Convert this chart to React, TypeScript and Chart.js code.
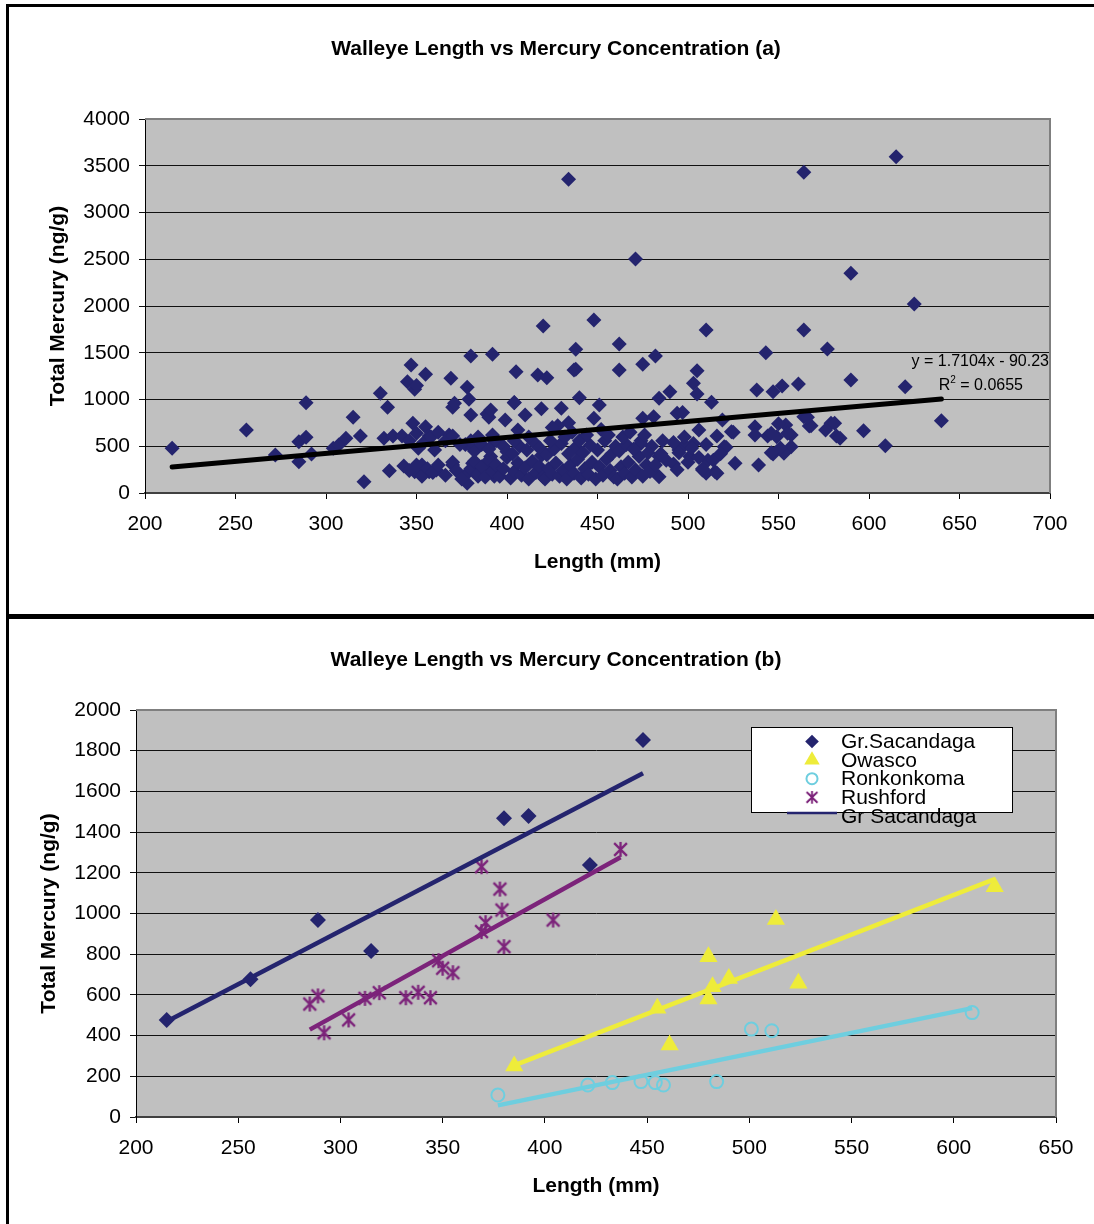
import React, { useEffect, useRef } from 'react';
import { Chart, registerables } from 'chart.js';

Chart.register(...registerables);

const FONT = "'Liberation Sans', Arial, Helvetica, sans-serif";

// ---------- text ----------
const TITLE_A = 'Walleye Length vs Mercury Concentration (a)';
const TITLE_B = 'Walleye Length vs Mercury Concentration (b)';
const X_TITLE = 'Length (mm)';
const Y_TITLE = 'Total Mercury (ng/g)';

// ---------- axes ----------
const X_MIN_A = 200, X_MAX_A = 700, X_STEP = 50;
const Y_MIN_A = 0, Y_MAX_A = 4000, Y_STEP_A = 500;
const X_MIN_B = 200, X_MAX_B = 650;
const Y_MIN_B = 0, Y_MAX_B = 2000, Y_STEP_B = 200;

// ---------- chart (a): all walleye [length mm, Hg ng/g] ----------
const walleyeSparse: [number, number][] = [
  [215, 478], [256, 674], [272, 406], [285, 335], [285, 549], [289, 595], [289, 966], [292, 417],
  [304, 478], [307, 513], [311, 585], [315, 809], [319, 610], [321, 121], [330, 1066], [332, 585],
  [334, 916], [335, 239], [337, 610], [342, 610], [345, 1190], [347, 1369], [348, 745], [349, 1109],
  [350, 1150], [355, 1269], [355, 709], [357, 610], [349, 228], [353, 299], [361, 246], [357, 228],
  [351, 478], [360, 460], [369, 1227], [378, 1130], [379, 1002], [370, 916], [371, 960], [380, 1465],
  [392, 1483], [380, 834], [389, 845], [390, 810], [368, 620], [370, 299], [378, 103], [377, 520],
  [378, 210], [381, 317], [384, 180], [389, 285], [391, 390], [393, 180], [393, 560], [384, 600], [381, 480],
];
const walleyeMiddle: [number, number][] = [
  [405, 1297], [417, 1262], [422, 1233], [420, 1786], [438, 1537], [438, 1323], [462, 1594], [462, 1316],
  [475, 1376], [482, 1465], [391, 888], [404, 966], [399, 781], [410, 834], [406, 674], [430, 906],
  [440, 1020], [451, 941], [434, 752], [428, 720], [425, 700], [448, 799], [475, 799], [434, 3355],
  [448, 1850], [471, 2503], [419, 900], [437, 1315], [404, 968],
];
const walleyeRight: [number, number][] = [
  [510, 1743], [564, 1743], [505, 1308], [543, 1501], [577, 1540], [503, 1173], [505, 1059], [490, 1084],
  [484, 1013], [513, 970], [538, 1102], [547, 1084], [552, 1144], [561, 1166], [494, 852], [481, 816],
  [519, 781], [524, 656], [516, 610], [520, 495], [537, 709], [537, 620], [544, 610], [549, 602],
  [554, 727], [557, 620], [557, 495], [547, 417], [553, 424], [564, 816], [567, 716], [576, 674],
  [579, 745], [582, 610], [526, 317], [539, 299], [492, 310], [484, 175], [480, 245], [508, 246],
  [515, 228], [503, 530], [506, 674], [498, 510], [501, 390], [511, 350], [495, 460], [480, 500],
  [484, 390], [474, 530], [564, 3430], [615, 3597], [590, 2350], [625, 2021], [590, 1209], [620, 1137],
  [640, 773], [609, 506], [597, 667], [584, 585], [581, 745], [568, 720], [566, 810], [555, 640],
  [550, 740], [546, 640], [551, 480], [546, 430], [521, 490], [525, 650], [510, 210], [516, 210],
  [508, 260], [497, 860],
];
const walleyeCluster: [number, number][] = [
  [343, 290], [346, 240], [350, 300], [353, 180], [356, 260], [359, 220], [362, 300], [366, 190],
  [370, 330], [372, 240], [375, 150], [346, 560], [350, 640], [354, 540], [358, 600], [362, 650],
  [366, 560], [370, 610], [374, 520],
  [380, 260], [382, 340], [384, 200], [386, 280], [388, 170], [390, 350], [392, 230], [394, 300],
  [396, 180], [398, 260], [400, 380], [382, 450], [386, 520], [390, 470], [394, 560], [398, 500],
  [400, 440], [380, 560], [392, 620],
  [402, 160], [404, 230], [406, 320], [408, 190], [410, 270], [412, 150], [414, 340], [416, 220],
  [418, 280], [420, 170], [403, 420], [407, 500], [411, 460], [415, 540], [419, 400], [404, 560],
  [412, 600], [418, 480],
  [421, 150], [423, 260], [425, 200], [427, 320], [429, 180], [431, 240], [433, 150], [435, 300],
  [437, 210], [439, 360], [422, 410], [426, 470], [430, 530], [434, 420], [438, 490], [424, 560],
  [432, 600], [436, 650], [440, 560],
  [441, 160], [443, 260], [445, 200], [447, 330], [449, 150], [451, 280], [453, 190], [455, 360],
  [457, 240], [459, 170], [442, 430], [446, 510], [450, 460], [454, 560], [458, 420], [444, 620],
  [452, 680], [456, 620], [460, 500],
  [461, 150], [463, 280], [465, 210], [467, 330], [469, 170], [471, 250], [473, 390], [475, 180],
  [477, 300], [479, 230], [462, 450], [466, 520], [470, 470], [474, 560], [478, 430], [464, 600],
  [468, 650], [476, 620],
  [482, 300], [485, 420], [488, 350], [492, 540], [495, 430], [498, 600], [502, 480], [506, 380],
  [510, 520], [514, 350], [518, 420], [486, 560], [494, 250], [500, 330],
];

// Excel trendline printed on chart (a)
const TREND_A_SLOPE = 1.7104;
const TREND_A_INTERCEPT = -90.23;
const TREND_A_EQUATION = 'y = 1.7104x - 90.23';
const TREND_A_R2 = '0.0655';

// ---------- chart (b): per lake ----------
const sacandagaLength = [215, 256, 289, 315, 380, 392, 422, 448];
const sacandagaMercury = [477, 677, 968, 816, 1468, 1479, 1238, 1852];
const owascoLength = [385, 455, 461, 480, 480, 482, 490, 513, 524, 620];
const owascoMercury = [251, 534, 354, 788, 580, 640, 681, 971, 657, 1132];
const ronkonkomaLength = [377, 421, 433, 447, 454, 458, 484, 501, 511, 609];
const ronkonkomaMercury = [108, 157, 169, 174, 169, 157, 174, 432, 424, 513];
const rushfordLength = [285, 289, 292, 304, 312, 319, 332, 338, 344, 348, 350, 355, 369, 378, 379, 371, 369, 380, 404, 437];
const rushfordMercury = [555, 595, 414, 477, 583, 611, 586, 613, 586, 768, 731, 709, 1230, 1120, 1017, 955, 911, 837, 968, 1315];

const NAVY = '#24246E';
const YELLOW = '#EEEC3A';
const CYAN = '#6ECEDF';
const PURPLE = '#7C237A';

// ---------- helpers ----------
const toPoints = (xs: number[], ys: number[]) => xs.map((x, i) => ({ x, y: ys[i] }));

function fitLine(xs: number[], ys: number[]) {
  const n = xs.length;
  const mx = xs.reduce((a, b) => a + b, 0) / n;
  const my = ys.reduce((a, b) => a + b, 0) / n;
  let sxy = 0, sxx = 0;
  for (let i = 0; i < n; i++) {
    sxy += (xs[i] - mx) * (ys[i] - my);
    sxx += (xs[i] - mx) * (xs[i] - mx);
  }
  const slope = sxy / sxx;
  const intercept = my - slope * mx;
  const x0 = Math.min(...xs), x1 = Math.max(...xs);
  return [{ x: x0, y: slope * x0 + intercept }, { x: x1, y: slope * x1 + intercept }];
}

function makeAsterisk(size: number, color: string, lw: number) {
  const c = document.createElement('canvas');
  c.width = size;
  c.height = size;
  const ctx = c.getContext('2d')!;
  ctx.strokeStyle = color;
  ctx.lineWidth = lw;
  const m = size / 2;
  const r = size / 2 - 1;
  const d = r * 0.85;
  ctx.beginPath();
  ctx.moveTo(m, m - r); ctx.lineTo(m, m + r);
  ctx.moveTo(m - d, m - d); ctx.lineTo(m + d, m + d);
  ctx.moveTo(m + d, m - d); ctx.lineTo(m - d, m + d);
  ctx.stroke();
  return c;
}

function drawMarker(ctx: CanvasRenderingContext2D, ds: any, x: number, y: number, scale: number) {
  const style = ds.pointStyle;
  const r = (ds.pointRadius || 6) * scale;
  ctx.save();
  if (style === 'line') {
    ctx.strokeStyle = ds.borderColor;
    ctx.lineWidth = 2.5;
    ctx.beginPath();
    ctx.moveTo(x - 25, y); ctx.lineTo(x + 25, y);
    ctx.stroke();
  } else if (style === 'rectRot') {
    ctx.fillStyle = ds.backgroundColor;
    ctx.beginPath();
    ctx.moveTo(x - r, y); ctx.lineTo(x, y - r); ctx.lineTo(x + r, y); ctx.lineTo(x, y + r);
    ctx.closePath(); ctx.fill();
  } else if (style === 'triangle') {
    ctx.fillStyle = ds.backgroundColor;
    ctx.beginPath();
    ctx.moveTo(x, y - r);
    ctx.lineTo(x + r * 0.866, y + r * 0.5);
    ctx.lineTo(x - r * 0.866, y + r * 0.5);
    ctx.closePath(); ctx.fill();
  } else if (style === 'circle') {
    ctx.strokeStyle = ds.borderColor;
    ctx.lineWidth = 2;
    ctx.beginPath(); ctx.arc(x, y, r, 0, Math.PI * 2); ctx.stroke();
  } else if (style instanceof HTMLCanvasElement) {
    const w = style.width * scale, h = style.height * scale;
    ctx.drawImage(style, x - w / 2, y - h / 2, w, h);
  }
  ctx.restore();
}

function makeFramePlugin(title: string, titleX: number, titleY: number) {
  return {
    id: 'frame',
    beforeDraw(chart: any) {
      const { ctx, chartArea: a } = chart;
      ctx.save();
      ctx.fillStyle = '#C0C0C0';
      ctx.fillRect(a.left, a.top, a.right - a.left, a.bottom - a.top);
      ctx.restore();
    },
    beforeDatasetsDraw(chart: any) {
      const { ctx, chartArea: a } = chart;
      ctx.save();
      ctx.strokeStyle = '#7F7F7F';
      ctx.lineWidth = 2;
      ctx.beginPath();
      ctx.moveTo(a.left, a.top); ctx.lineTo(a.right, a.top); ctx.lineTo(a.right, a.bottom);
      ctx.stroke();
      ctx.restore();
    },
    afterDraw(chart: any) {
      const { ctx } = chart;
      ctx.save();
      ctx.fillStyle = '#000';
      ctx.font = `bold 21px ${FONT}`;
      ctx.textAlign = 'center';
      ctx.textBaseline = 'middle';
      ctx.fillText(title, titleX, titleY);
      ctx.restore();
    },
  };
}

const equationPlugin = {
  id: 'equation',
  afterDatasetsDraw(chart: any) {
    const { ctx, chartArea: a } = chart;
    ctx.save();
    ctx.fillStyle = '#000';
    ctx.textBaseline = 'middle';
    ctx.font = `16px ${FONT}`;
    ctx.textAlign = 'right';
    ctx.fillText(TREND_A_EQUATION, a.right - 1, a.top + 243);
    const rest = ` = ${TREND_A_R2}`;
    const wRest = ctx.measureText(rest).width;
    const wR = ctx.measureText('R').width;
    ctx.font = `10px ${FONT}`;
    const w2 = ctx.measureText('2').width;
    const end = a.right - 27;
    const start = end - wRest - w2 - wR;
    ctx.textAlign = 'left';
    ctx.font = `16px ${FONT}`;
    ctx.fillText('R', start, a.top + 267);
    ctx.fillText(rest, start + wR + w2, a.top + 267);
    ctx.font = `10px ${FONT}`;
    ctx.fillText('2', start + wR, a.top + 261);
    ctx.restore();
  },
};

const boxLegendPlugin = {
  id: 'boxLegend',
  afterDraw(chart: any) {
    const { ctx, chartArea: a } = chart;
    const x0 = a.right - 305, y0 = a.top + 17, w = 261, h = 85;
    ctx.save();
    ctx.fillStyle = '#FFFFFF';
    ctx.fillRect(x0, y0, w, h);
    ctx.strokeStyle = '#000';
    ctx.lineWidth = 1;
    ctx.strokeRect(x0 + 0.5, y0 + 0.5, w, h);
    const items = chart.data.datasets.filter((d: any) => d.inLegend);
    items.forEach((ds: any, i: number) => {
      const cy = y0 + 14.5 + 18.6 * i;
      if (ds.pointStyle === 'line') drawMarker(ctx, ds, x0 + 61, cy - 3, 1);
      else drawMarker(ctx, ds, x0 + 61, cy, 0.85);
      ctx.fillStyle = '#000';
      ctx.font = `21px ${FONT}`;
      ctx.textAlign = 'left';
      ctx.textBaseline = 'middle';
      ctx.fillText(ds.label, x0 + 90, cy + 1);
    });
    ctx.restore();
  },
};

function axisOptions(o: {
  xMin: number; xMax: number; yMin: number; yMax: number; yStep: number;
  xHeight: number; yWidth: number; xTitlePad: number; yTitlePad: number;
}) {
  const tickFont = { family: FONT, size: 21 };
  const titleFont = { family: FONT, size: 21, weight: 'bold' as const };
  const plain = (v: any) => String(v);
  return {
    x: {
      type: 'linear' as const,
      min: o.xMin, max: o.xMax,
      afterFit: (s: any) => { s.height = o.xHeight; },
      ticks: { stepSize: X_STEP, color: '#000', font: tickFont, padding: 13, maxRotation: 0, autoSkip: false, callback: plain },
      grid: { drawOnChartArea: false, drawTicks: true, tickLength: 6, color: '#000' },
      border: { color: '#404040', width: 2 },
      title: { display: true, text: X_TITLE, color: '#000', font: titleFont, padding: { top: 0, bottom: o.xTitlePad } },
    },
    y: {
      type: 'linear' as const,
      min: o.yMin, max: o.yMax,
      afterFit: (s: any) => { s.width = o.yWidth; },
      ticks: { stepSize: o.yStep, color: '#000', font: tickFont, padding: 9, callback: plain },
      grid: { color: '#111', lineWidth: 1, tickLength: 6 },
      border: { color: '#000', width: 1 },
      title: { display: true, text: Y_TITLE, color: '#000', font: titleFont, padding: { top: o.yTitlePad, bottom: 0 } },
    },
  };
}

export default function App() {
  const refA = useRef<HTMLCanvasElement>(null);
  const refB = useRef<HTMLCanvasElement>(null);

  useEffect(() => {
    document.body.style.margin = '0';
    const allWalleye = [...walleyeSparse, ...walleyeMiddle, ...walleyeRight, ...walleyeCluster];
    const lengths = allWalleye.map((p) => p[0]);
    const xLo = Math.min(...lengths), xHi = Math.max(...lengths);

    const chartA = new Chart(refA.current!, {
      type: 'scatter',
      data: {
        datasets: [
          {
            type: 'line',
            label: 'Linear',
            data: [
              { x: xLo, y: TREND_A_SLOPE * xLo + TREND_A_INTERCEPT },
              { x: xHi, y: TREND_A_SLOPE * xHi + TREND_A_INTERCEPT },
            ],
            borderColor: '#000', borderWidth: 5, pointRadius: 0, borderCapStyle: 'round', order: 0,
          } as any,
          {
            label: 'Walleye',
            data: allWalleye.map(([x, y]) => ({ x, y })),
            pointStyle: 'rectRot', pointRadius: 7.5, backgroundColor: NAVY, borderColor: NAVY, borderWidth: 0, order: 1,
          },
        ],
      },
      options: {
        responsive: false, animation: false, devicePixelRatio: 1,
        layout: { padding: { top: 112, right: 44, left: 0, bottom: 0 } },
        plugins: { legend: { display: false }, tooltip: { enabled: false }, title: { display: false } },
        scales: axisOptions({
          xMin: X_MIN_A, xMax: X_MAX_A, yMin: Y_MIN_A, yMax: Y_MAX_A, yStep: Y_STEP_A,
          xHeight: 121, yWidth: 136, xTitlePad: 39, yTitlePad: 37,
        }) as any,
      },
      plugins: [makeFramePlugin(TITLE_A, 547, 42), equationPlugin],
    });

    const star = makeAsterisk(17, PURPLE, 2.3);
    const lakeTrend = (xs: number[], ys: number[], color: string, label: string, inLegend: boolean) => ({
      type: 'line', label, data: fitLine(xs, ys), borderColor: color, backgroundColor: color,
      borderWidth: 4.5, pointRadius: 0, order: 0, pointStyle: 'line', inLegend,
    }) as any;

    const chartB = new Chart(refB.current!, {
      type: 'scatter',
      data: {
        datasets: [
          { label: 'Gr.Sacandaga', data: toPoints(sacandagaLength, sacandagaMercury), pointStyle: 'rectRot', pointRadius: 8, backgroundColor: NAVY, borderColor: NAVY, borderWidth: 0, order: 1, inLegend: true } as any,
          { label: 'Owasco', data: toPoints(owascoLength, owascoMercury), pointStyle: 'triangle', pointRadius: 10.5, backgroundColor: YELLOW, borderColor: YELLOW, borderWidth: 0, order: 1, inLegend: true } as any,
          { label: 'Ronkonkoma', data: toPoints(ronkonkomaLength, ronkonkomaMercury), pointStyle: 'circle', pointRadius: 6.5, backgroundColor: 'rgba(0,0,0,0)', borderColor: CYAN, borderWidth: 2, order: 1, inLegend: true } as any,
          { label: 'Rushford', data: toPoints(rushfordLength, rushfordMercury), pointStyle: star, pointRadius: 8, backgroundColor: PURPLE, borderColor: PURPLE, order: 1, inLegend: true } as any,
          lakeTrend(sacandagaLength, sacandagaMercury, NAVY, 'Gr Sacandaga', true),
          lakeTrend(owascoLength, owascoMercury, YELLOW, 'Owasco trend', false),
          lakeTrend(ronkonkomaLength, ronkonkomaMercury, CYAN, 'Ronkonkoma trend', false),
          lakeTrend(rushfordLength, rushfordMercury, PURPLE, 'Rushford trend', false),
        ],
      },
      options: {
        responsive: false, animation: false, devicePixelRatio: 1,
        layout: { padding: { top: 91, right: 38, left: 0, bottom: 0 } },
        plugins: { legend: { display: false }, tooltip: { enabled: false }, title: { display: false } },
        scales: axisOptions({
          xMin: X_MIN_B, xMax: X_MAX_B, yMin: Y_MIN_B, yMax: Y_MAX_B, yStep: Y_STEP_B,
          xHeight: 107, yWidth: 127, xTitlePad: 25, yTitlePad: 28,
        }) as any,
      },
      plugins: [makeFramePlugin(TITLE_B, 547, 41), boxLegendPlugin],
    });

    return () => { chartA.destroy(); chartB.destroy(); };
  }, []);

  const bar = (l: number, t: number, w: number, h: number) => (
    <div style={{ position: 'absolute', left: l, top: t, width: w, height: h, background: '#000' }} />
  );

  return (
    <div style={{ position: 'relative', width: 1094, height: 1224, overflow: 'hidden', background: '#fff' }}>
      <canvas ref={refA} width={1085} height={607} style={{ position: 'absolute', left: 9, top: 7, display: 'block' }} />
      <canvas ref={refB} width={1085} height={605} style={{ position: 'absolute', left: 9, top: 619, display: 'block' }} />
      {bar(6, 4, 1088, 3)}
      {bar(6, 4, 3, 1220)}
      {bar(6, 614, 1088, 5)}
    </div>
  );
}
